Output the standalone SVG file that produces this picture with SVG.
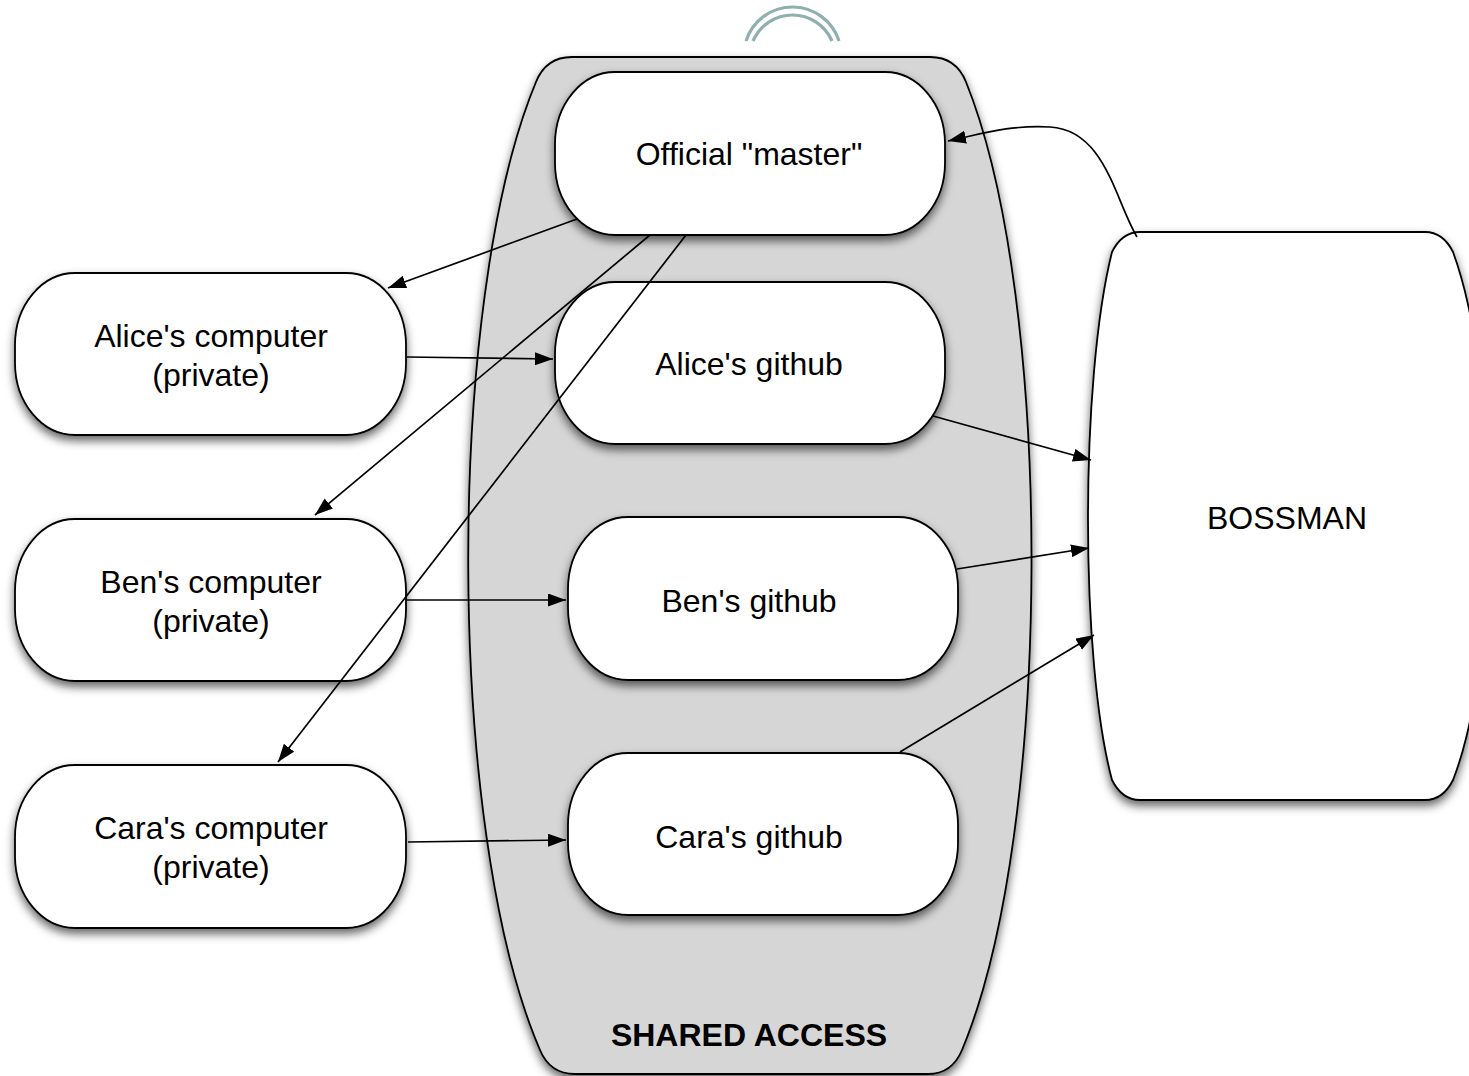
<svg xmlns="http://www.w3.org/2000/svg" width="1469" height="1076" viewBox="0 0 1469 1076">
<defs>
<style>
.node{fill:#ffffff;stroke:#000000;stroke-width:1.8;filter:url(#sh)}
.lbl{font-family:"Liberation Sans",Arial,Helvetica,sans-serif;font-size:32px;fill:#000000;text-anchor:middle}
.bold{font-weight:bold}
.conn{fill:none;stroke:#000000;stroke-width:1.7;marker-end:url(#arr)}
.arc{fill:none;stroke:#8fb0ae;stroke-width:3.2}
</style>
<filter id="sh" x="-20%" y="-20%" width="140%" height="150%">
<feDropShadow dx="0" dy="5" stdDeviation="5" flood-color="#000000" flood-opacity="0.6"/>
</filter>
<marker id="arr" markerUnits="userSpaceOnUse" markerWidth="20" markerHeight="14" refX="18" refY="6.5" orient="auto">
<path d="M0,0 L18,6.5 L0,13 Z" fill="#000000"/>
</marker>
</defs>
<rect width="1469" height="1076" fill="#ffffff"/>

<g id="top-arcs">
<path class="arc" d="M746,41 A48.8,48.8 0 0 1 839,41"/>
<path class="arc" d="M753,41 A43,43 0 0 1 832,41"/>
</g>

<g id="shared-access">
<path d="M572,57 L930,57 Q956,57 966,82 C1054,300 1054,830 962,1050 Q952,1074 928,1074 L575,1074 Q550,1074 540,1050 C445,830 445,300 536,82 Q546,57 572,57 Z" fill="#d6d6d6" stroke="#000000" stroke-width="1.8" filter="url(#sh)"/>
<text class="lbl bold" x="749" y="1046">SHARED ACCESS</text>
</g>

<g id="bossman">
<path class="node" d="M1140,232 L1425,232 Q1443,232 1453,252 C1500,380 1500,660 1453,780 Q1443,800 1425,800 L1140,800 Q1122,800 1112,780 C1080,660 1080,380 1112,252 Q1122,232 1140,232 Z"/>
<text class="lbl" x="1287" y="529">BOSSMAN</text>
</g>

<g id="master">
<rect class="node" x="555" y="72" width="390" height="163" rx="60" ry="72"/>
<text class="lbl" x="749" y="165">Official "master"</text>
</g>

<g id="alice-github">
<rect class="node" x="555" y="282" width="390" height="162" rx="60" ry="72"/>
<text class="lbl" x="749" y="375">Alice's github</text>
</g>

<g id="ben-github">
<rect class="node" x="568" y="517" width="390" height="163" rx="60" ry="72"/>
<text class="lbl" x="749" y="612">Ben's github</text>
</g>

<g id="cara-github">
<rect class="node" x="568" y="753" width="390" height="162" rx="60" ry="72"/>
<text class="lbl" x="749" y="848">Cara's github</text>
</g>

<g id="alice-computer">
<rect class="node" x="15" y="273" width="391" height="162" rx="60" ry="72"/>
<text class="lbl" x="211" y="347">Alice's computer</text>
<text class="lbl" x="211" y="386">(private)</text>
</g>

<g id="ben-computer">
<rect class="node" x="15" y="519" width="391" height="162" rx="60" ry="72"/>
<text class="lbl" x="211" y="593">Ben's computer</text>
<text class="lbl" x="211" y="632">(private)</text>
</g>

<g id="cara-computer">
<rect class="node" x="15" y="765" width="391" height="163" rx="60" ry="72"/>
<text class="lbl" x="211" y="839">Cara's computer</text>
<text class="lbl" x="211" y="878">(private)</text>
</g>

<g id="connectors">
<path class="conn" d="M1137,237 C1115,200 1105,130 1050,127 C1010,125 985,133 948,141"/>
<path class="conn" d="M577,219 L388,288"/>
<path class="conn" d="M650,235 L315,515"/>
<path class="conn" d="M686,235 L278,762"/>
<path class="conn" d="M407,357 L553,359"/>
<path class="conn" d="M407,600 L566,600"/>
<path class="conn" d="M408,842 L566,840"/>
<path class="conn" d="M933,416 L1091,460"/>
<path class="conn" d="M957,569 L1089,548"/>
<path class="conn" d="M900,752 L1094,635"/>
</g>
</svg>
